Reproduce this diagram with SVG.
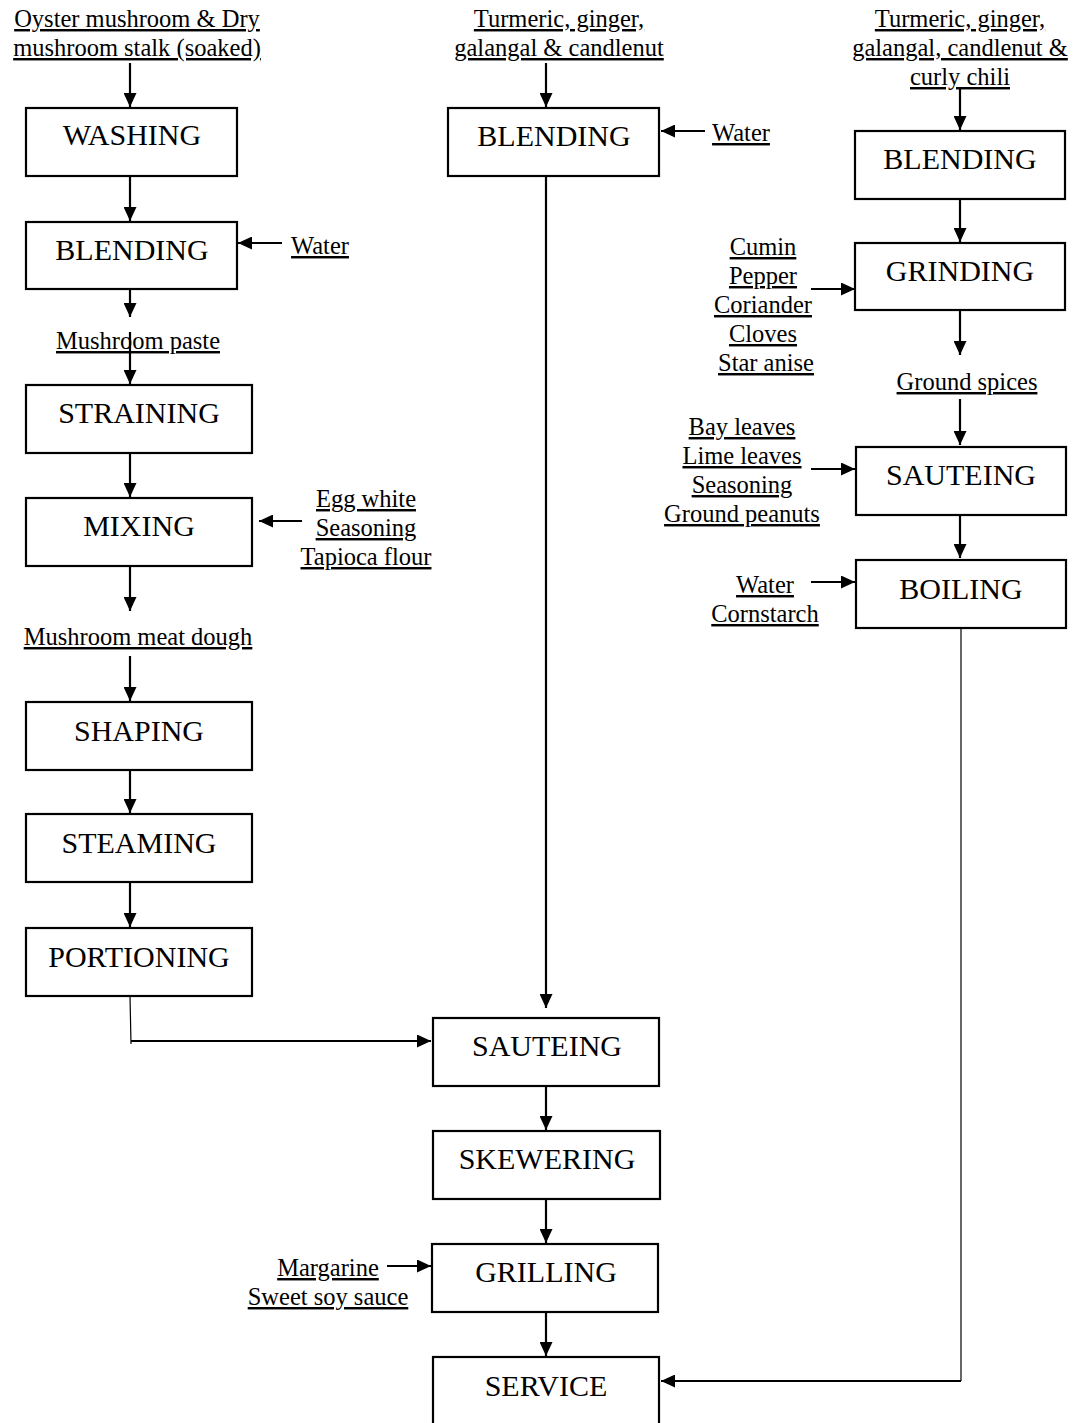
<svg xmlns="http://www.w3.org/2000/svg" width="1076" height="1423" viewBox="0 0 1076 1423">
<style>
.box{fill:#fff;stroke:#000;stroke-width:2.2}
.bt{font-family:"Liberation Serif","Times New Roman",serif;font-size:30px;text-anchor:middle;fill:#000}
.lt{font-family:"Liberation Serif","Times New Roman",serif;font-size:24.5px;text-anchor:middle;fill:#000;text-decoration:underline;text-decoration-skip-ink:none}
.ar{stroke:#000;stroke-width:2.2;fill:none;marker-end:url(#ah)}
.thin{stroke:#000;stroke-width:1.2;fill:none}
</style>
<defs>
<marker id="ah" markerUnits="userSpaceOnUse" markerWidth="15" markerHeight="13" refX="14" refY="6.5" orient="auto">
<path d="M0,0 L14,6.5 L0,13 Z" fill="#000"/>
</marker>
</defs>
<rect width="1076" height="1423" fill="#fff"/>

<g id="labels">
<text class="lt" x="137" y="27">Oyster mushroom &amp; Dry</text>
<text class="lt" x="137" y="56">mushroom stalk (soaked)</text>
<text class="lt" x="320" y="254">Water</text>
<text class="lt" x="138" y="349">Mushroom paste</text>
<text class="lt" x="366" y="507">Egg white</text>
<text class="lt" x="366" y="536">Seasoning</text>
<text class="lt" x="366" y="565">Tapioca flour</text>
<text class="lt" x="138" y="645">Mushroom meat dough</text>
<text class="lt" x="559" y="27">Turmeric, ginger,</text>
<text class="lt" x="559" y="56">galangal &amp; candlenut</text>
<text class="lt" x="741" y="141">Water</text>
<text class="lt" x="960" y="27">Turmeric, ginger,</text>
<text class="lt" x="960" y="56">galangal, candlenut &amp;</text>
<text class="lt" x="960" y="85">curly chili</text>
<text class="lt" x="763" y="255">Cumin</text>
<text class="lt" x="763" y="284">Pepper</text>
<text class="lt" x="763" y="313">Coriander</text>
<text class="lt" x="763" y="342">Cloves</text>
<text class="lt" x="766" y="371">Star anise</text>
<text class="lt" x="967" y="390">Ground spices</text>
<text class="lt" x="742" y="435">Bay leaves</text>
<text class="lt" x="742" y="464">Lime leaves</text>
<text class="lt" x="742" y="493">Seasoning</text>
<text class="lt" x="742" y="522">Ground peanuts</text>
<text class="lt" x="765" y="593">Water</text>
<text class="lt" x="765" y="622">Cornstarch</text>
<text class="lt" x="328" y="1276">Margarine</text>
<text class="lt" x="328" y="1305">Sweet soy sauce</text>
</g>

<g id="connectors">
<line class="ar" x1="130" y1="63" x2="130" y2="107"/>
<line class="ar" x1="130" y1="176" x2="130" y2="221"/>
<line class="ar" x1="282" y1="243" x2="238" y2="243"/>
<line class="ar" x1="130" y1="289" x2="130" y2="317"/>
<line class="ar" x1="130" y1="332" x2="130" y2="384"/>
<line class="ar" x1="130" y1="453" x2="130" y2="497"/>
<line class="ar" x1="302" y1="521" x2="259" y2="521"/>
<line class="ar" x1="130" y1="566" x2="130" y2="611"/>
<line class="ar" x1="130" y1="656" x2="130" y2="701"/>
<line class="ar" x1="130" y1="770" x2="130" y2="813"/>
<line class="ar" x1="130" y1="882" x2="130" y2="927"/>
<polyline class="thin" points="130,996 131,1044"/>
<line class="ar" x1="131" y1="1041" x2="431" y2="1041"/>
<line class="ar" x1="546" y1="63" x2="546" y2="107"/>
<line class="ar" x1="705" y1="131" x2="661" y2="131"/>
<line class="ar" x1="546" y1="176" x2="546" y2="1008"/>
<line class="ar" x1="546" y1="1086" x2="546" y2="1130"/>
<line class="ar" x1="546" y1="1199" x2="546" y2="1243"/>
<line class="ar" x1="387" y1="1266" x2="431" y2="1266"/>
<line class="ar" x1="546" y1="1312" x2="546" y2="1356"/>
<line class="ar" x1="960" y1="88" x2="960" y2="130"/>
<line class="ar" x1="960" y1="199" x2="960" y2="242"/>
<line class="ar" x1="811" y1="289" x2="855" y2="289"/>
<line class="ar" x1="960" y1="310" x2="960" y2="355"/>
<line class="ar" x1="960" y1="399" x2="960" y2="445"/>
<line class="ar" x1="811" y1="469" x2="855" y2="469"/>
<line class="ar" x1="960" y1="515" x2="960" y2="558"/>
<line class="ar" x1="811" y1="582" x2="855" y2="582"/>
<polyline class="thin" points="961,628 961,1381"/>
<line class="ar" x1="961" y1="1381" x2="661" y2="1381"/>
</g>

<g id="n-washing"><rect class="box" x="26" y="108" width="211" height="68"/><text class="bt" x="132" y="145">WASHING</text></g>
<g id="n-blending1"><rect class="box" x="26" y="222" width="211" height="67"/><text class="bt" x="132" y="260">BLENDING</text></g>
<g id="n-straining"><rect class="box" x="26" y="385" width="226" height="68"/><text class="bt" x="139" y="423">STRAINING</text></g>
<g id="n-mixing"><rect class="box" x="26" y="498" width="226" height="68"/><text class="bt" x="139" y="536">MIXING</text></g>
<g id="n-shaping"><rect class="box" x="26" y="702" width="226" height="68"/><text class="bt" x="139" y="741">SHAPING</text></g>
<g id="n-steaming"><rect class="box" x="26" y="814" width="226" height="68"/><text class="bt" x="139" y="853">STEAMING</text></g>
<g id="n-portioning"><rect class="box" x="26" y="928" width="226" height="68"/><text class="bt" x="139" y="967">PORTIONING</text></g>
<g id="n-blending2"><rect class="box" x="448" y="108" width="211" height="68"/><text class="bt" x="554" y="146">BLENDING</text></g>
<g id="n-sauteing1"><rect class="box" x="433" y="1018" width="226" height="68"/><text class="bt" x="547" y="1056">SAUTEING</text></g>
<g id="n-skewering"><rect class="box" x="433" y="1131" width="227" height="68"/><text class="bt" x="547" y="1169">SKEWERING</text></g>
<g id="n-grilling"><rect class="box" x="432" y="1244" width="226" height="68"/><text class="bt" x="546" y="1282">GRILLING</text></g>
<g id="n-service"><rect class="box" x="433" y="1357" width="226" height="75"/><text class="bt" x="546" y="1396">SERVICE</text></g>
<g id="n-blending3"><rect class="box" x="855" y="131" width="210" height="68"/><text class="bt" x="960" y="169">BLENDING</text></g>
<g id="n-grinding"><rect class="box" x="855" y="243" width="210" height="67"/><text class="bt" x="960" y="281">GRINDING</text></g>
<g id="n-sauteing2"><rect class="box" x="856" y="447" width="210" height="68"/><text class="bt" x="961" y="485">SAUTEING</text></g>
<g id="n-boiling"><rect class="box" x="856" y="560" width="210" height="68"/><text class="bt" x="961" y="599">BOILING</text></g>
</svg>
